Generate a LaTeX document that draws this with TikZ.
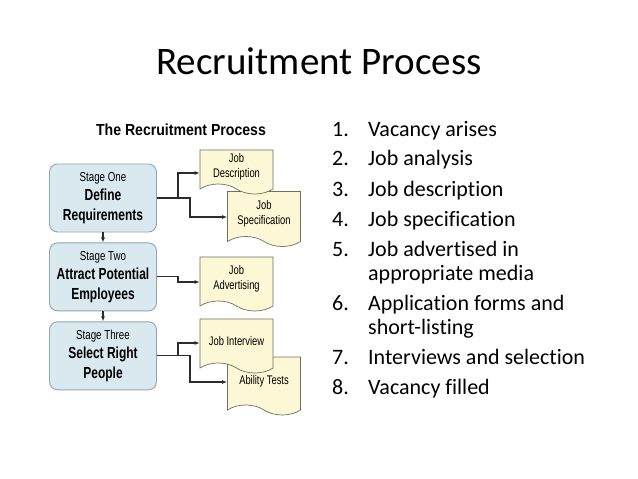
\documentclass[tikz,border=0pt]{standalone}
\usepackage{fontspec}
\usepackage{tikz}
\usetikzlibrary{arrows.meta,positioning,shapes.symbols}
\newfontfamily\calfont[Ligatures=NoCommon]{Carlito}
\newfontfamily\narrowfont[FakeStretch=0.75]{Liberation Sans}
\newfontfamily\headfont[FakeStretch=0.88]{Liberation Sans}
\definecolor{StageFill}{HTML}{DAE9EF}
\definecolor{StageLine}{HTML}{8FA7B2}
\definecolor{DocFill}{HTML}{FCF7D4}
\definecolor{DocLine}{HTML}{6F6F60}
\definecolor{LinkGray}{HTML}{2B2B2B}

\begin{document}
\begin{tikzpicture}[
    x=1pt,y=-1pt,
    node distance=10pt,
    stage/.style={rounded corners=8pt,draw=StageLine,fill=StageFill,line width=0.9pt,
      minimum width=107pt,minimum height=68pt,align=center,inner sep=0pt,
      font=\narrowfont\bfseries\fontsize{16}{19.5}\selectfont},
    doc/.style={tape,tape bend top=none,tape bend bottom=out and in,tape bend height=10pt,
      draw=DocLine,fill=DocFill,line width=0.7pt,minimum width=73pt,align=center,
      inner sep=0pt,font=\narrowfont\fontsize{12.5}{15.5}\selectfont},
    num/.style={anchor=base west,inner sep=0pt,font=\calfont\fontsize{22}{24}\selectfont},
    item/.style={num},
    arrow/.style={-{Latex[length=5pt,width=4pt]},line width=1.1pt,color=LinkGray}
  ]
    \useasboundingbox[fill=white] (0,0) rectangle (638,479);

    \node[anchor=base,inner sep=0pt,font=\calfont\fontsize{39}{42}\selectfont] (title) at (319,74) {Recruitment Process};
    \node[font=\headfont\bfseries\fontsize{16}{18}\selectfont,inner sep=0pt] (sub) at (181,130) {The Recruitment Process};

    % stages
    \node[stage] (s1) at (103,198) {{\mdseries\fontsize{13}{19.5}\selectfont Stage One}\\Define\\Requirements};
    \node[stage,below=of s1] (s2) {{\mdseries\fontsize{13}{19.5}\selectfont Stage Two}\\Attract Potential\\Employees};
    \node[stage,below=of s2] (s3) {{\mdseries\fontsize{13}{19.5}\selectfont Stage Three}\\Select Right\\People};

    % documents
    \node[doc,minimum height=55pt] (js) at (264,214) {Job\\Specification};
    \node[doc,minimum height=44pt] (jd) at (236.5,167) {Job\\Description};
    \node[doc,minimum height=54pt] (ja) at (236.5,279) {Job\\Advertising};
    \node[doc,minimum height=58pt] (at) at (264,381) {Ability Tests};
    \node[doc,minimum height=54pt] (ji) at (236.5,341) {Job Interview};

    \draw[arrow] (s1) -- (s2);
    \draw[arrow] (s2) -- (s3);
    \draw[arrow] (s1.east) -- ++(33,0) |- ([yshift=-3pt]js.west);
    \draw[arrow] ([xshift=21pt]s1.east) |- ([yshift=-6pt]jd.west);
    \draw[arrow] (s2.east) -- ++(21,0) |- ([yshift=-3pt]ja.west);
    \draw[arrow] (s3.east) -- ++(33,0) |- ([yshift=-1pt]at.west);
    \draw[arrow] ([xshift=21pt]s3.east) |- ([yshift=-2pt]ji.west);

    % numbered list
    \foreach \n/\y in {1/136,2/165,3/196,4/226,5/256,6/310,7/364,8/394}
      \node[num] (n\n) at (332,\y) {\n.};
    \node[item] (i1) at (368,136) {Vacancy arises};
    \node[item] (i2) at (368,165) {Job analysis};
    \node[item] (i3) at (368,196) {Job description};
    \node[item] (i4) at (368,226) {Job specification};
    \node[item] (i5) at (368,256) {Job advertised in};
    \node[item] (i5b) at (368,280) {appropriate media};
    \node[item] (i6) at (368,310) {Application forms and};
    \node[item] (i6b) at (368,334) {short-listing};
    \node[item] (i7) at (368,364) {Interviews and selection};
    \node[item] (i8) at (368,394) {Vacancy filled};
\end{tikzpicture}
\end{document}
